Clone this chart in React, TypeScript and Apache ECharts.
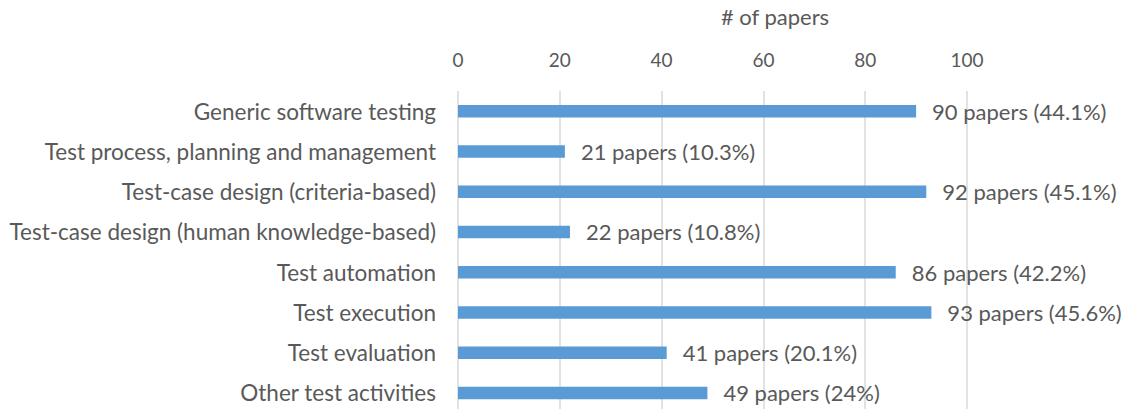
import React, { useEffect, useRef } from "react";
import * as echarts from "echarts";

const categories = [
  "Generic software testing",
  "Test process, planning and management",
  "Test-case design (criteria-based)",
  "Test-case design (human knowledge-based)",
  "Test automation",
  "Test execution",
  "Test evaluation",
  "Other test activities",
];
const paperCounts = [90, 21, 92, 22, 86, 93, 41, 49];
const percentLabels = ["44.1%", "10.3%", "45.1%", "10.8%", "42.2%", "45.6%", "20.1%", "24%"];
const xTicks = { min: 0, max: 100, interval: 20 };

const FONT = "Lato";
const TEXT_COLOR = "#595959";

export default function App() {
  const ref = useRef<HTMLDivElement>(null);
  useEffect(() => {
    if (!ref.current) return;
    const chart = echarts.init(ref.current, undefined, { renderer: "svg" });
    chart.setOption({
      animation: false,
      grid: {
        left: 458,
        right: 157,
        top: 91,
        bottom: -4,
        containLabel: false,
        outerBoundsMode: "none",
      },
      xAxis: {
        type: "value",
        position: "top",
        min: xTicks.min,
        max: xTicks.max,
        interval: xTicks.interval,
        name: "# of papers",
        nameLocation: "middle",
        nameGap: 64,
        nameTextStyle: {
          fontFamily: FONT,
          fontSize: 22,
          color: TEXT_COLOR,
          padding: [0, 0, 0, 125],
        },
        axisLine: { show: false },
        axisTick: { show: false },
        axisLabel: { fontFamily: FONT, fontSize: 19, color: TEXT_COLOR, margin: 22 },
        splitLine: { show: true, lineStyle: { color: "#D9D9D9", width: 1.5 } },
      },
      yAxis: {
        type: "category",
        inverse: true,
        data: categories,
        axisLine: { show: false },
        axisTick: { show: false },
        axisLabel: { fontFamily: FONT, fontSize: 22.5, color: TEXT_COLOR, margin: 22 },
      },
      series: [
        {
          type: "bar",
          data: paperCounts,
          barWidth: 12.5,
          itemStyle: { color: "#5B9BD5" },
          label: {
            show: true,
            position: "right",
            distance: 16,
            fontFamily: FONT,
            fontSize: 22,
            color: TEXT_COLOR,
            formatter: (p: any) => `${p.value} papers (${percentLabels[p.dataIndex]})`,
          },
        },
      ],
    });
    return () => chart.dispose();
  }, []);
  return (
    <div
      ref={ref}
      style={{ position: "absolute", left: 0, top: 0, width: 1124, height: 409 }}
    />
  );
}
